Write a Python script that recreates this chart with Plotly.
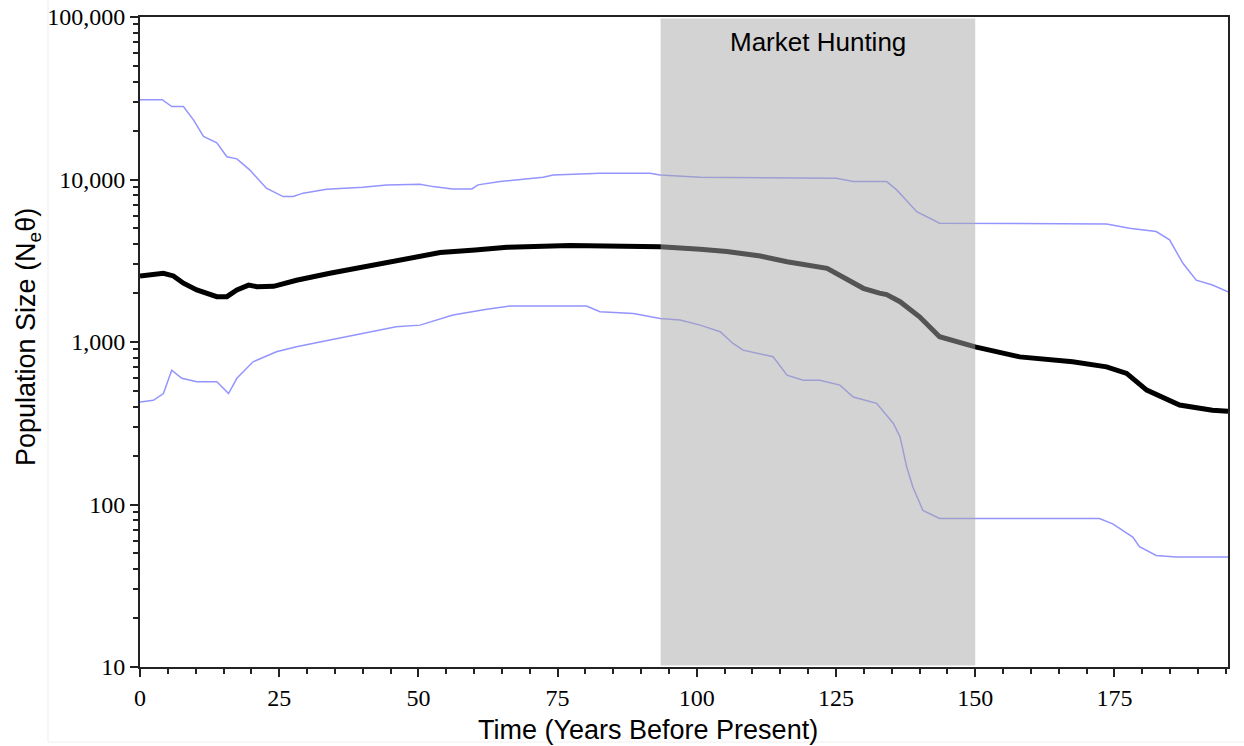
import plotly.graph_objects as go

# ---- data ----
median_years = [0, 3, 4.2, 6, 7.8, 10.2, 13.8, 15.6, 17.4, 19.5, 21, 24, 28.1, 34.1, 40.1, 46.1,
                50.3, 53.9, 60.2, 65.9, 77.2, 93.4, 100.6, 105.4, 111.4, 116.2, 123.4, 126.3,
                129.9, 132.8, 134.1, 136.5, 140, 143.6, 150, 158, 167.5, 173.6, 177.2, 180.8,
                186.7, 192.6, 195.4]
median_vals = [2550, 2650, 2650, 2550, 2300, 2090, 1900, 1900, 2090, 2240, 2190, 2200, 2400, 2650,
               2900, 3200, 3350, 3550, 3680, 3830, 3920, 3860, 3720, 3600, 3380, 3120, 2840, 2520,
               2140, 2000, 1960, 1770, 1430, 1077, 933, 810, 755, 703, 641, 506, 409, 380, 375]

upper_years = [0, 4, 5.7, 7.8, 9.6, 11.4, 13.8, 15.6, 17.4, 19.7, 22.7, 25.7, 27.5, 29.3, 33.5,
               40, 44.3, 50.3, 52.6, 56.2, 59.6, 60.7, 64.7, 69.5, 72.4, 74.2, 82.6, 91.6, 93.4,
               100.6, 125.1, 128.1, 134.1, 135.9, 139.5, 143.6, 173.6, 177.7, 182.5, 184.9,
               187.3, 189.7, 192.6, 195.4]
upper_vals = [31000, 31000, 28100, 28100, 23300, 18400, 16800, 13800, 13400, 11470, 8840, 7850,
              7850, 8240, 8710, 8970, 9260, 9350, 9040, 8750, 8750, 9270, 9710, 10040, 10330,
              10670, 10930, 10930, 10670, 10330, 10180, 9710, 9710, 8630, 6340, 5380, 5330, 5010,
              4780, 4250, 3050, 2400, 2240, 2040]

lower_years = [0, 2.4, 4.2, 5.7, 7.5, 10.2, 13.8, 15.9, 17.4, 20.3, 24.5, 28.1, 34.1, 40, 46,
               50.3, 56.2, 62.3, 66.5, 80.2, 82.6, 88.6, 93.4, 97, 100.6, 104.2, 106.5, 108.3,
               113.7, 116.2, 119.1, 122.1, 125.7, 128.1, 132.3, 135.3, 136.5, 137.7, 138.8,
               140.6, 143.6, 172.3, 174.7, 178.3, 179.5, 182.5, 186.1, 195.4]
lower_vals = [428, 438, 482, 671, 598, 569, 569, 482, 598, 755, 871, 936, 1028, 1130, 1242, 1270,
              1466, 1590, 1665, 1665, 1535, 1500, 1397, 1365, 1270, 1156, 980, 891, 811, 625, 582,
              582, 543, 459, 419, 315, 261, 170, 128, 92, 82, 82, 76, 63, 55, 48.6, 47.5, 47.5]

hunting_start, hunting_end = 93.5, 150
x_range = [0, 195.4]
y_tickvals = [10, 100, 1000, 10000, 100000]
y_ticktext = ["10", "100", "1,000", "10,000", "100,000"]
y_minor = [k * 10 ** d for d in range(1, 5) for k in range(2, 10)]

SERIF = "Liberation Serif, Times New Roman, serif"
SANS = "Liberation Sans, Arial, sans-serif"
BLUE = "#9494ff"

fig = go.Figure()
fig.add_trace(go.Scatter(x=upper_years, y=upper_vals, mode="lines",
                         line=dict(color=BLUE, width=1.5), showlegend=False))
fig.add_trace(go.Scatter(x=lower_years, y=lower_vals, mode="lines",
                         line=dict(color=BLUE, width=1.5), showlegend=False))
fig.add_trace(go.Scatter(x=median_years, y=median_vals, mode="lines",
                         line=dict(color="black", width=5), showlegend=False))

H = 650.0
fig.add_shape(type="rect", xref="x", yref="paper", x0=hunting_start, x1=hunting_end,
              y0=1.5 / H, y1=1 - 1.5 / H, fillcolor="rgb(168,168,168)", opacity=0.5,
              line=dict(width=0), layer="above")

# faint outer figure frame lines
fig.add_shape(type="line", xref="paper", yref="paper", x0=(48 - 140) / 1088, x1=(48 - 140) / 1088,
              y0=(667 - 742) / H, y1=(667 + 17) / H, line=dict(color="#eeeeee", width=1))
fig.add_shape(type="line", xref="paper", yref="paper", x0=(48 - 140) / 1088, x1=(1244 - 140) / 1088,
              y0=(667 - 742) / H, y1=(667 - 742) / H, line=dict(color="#eeeeee", width=1))

fig.add_annotation(text="Market Hunting", xref="x", yref="paper",
                   x=(hunting_start + hunting_end) / 2, y=(667 - 42) / H,
                   showarrow=False, font=dict(family=SANS, size=26, color="black"),
                   xanchor="center", yanchor="middle")
fig.add_annotation(text="Time (Years Before Present)", xref="paper", yref="paper",
                   x=(648 - 140) / 1088, y=(667 - 730) / H, showarrow=False,
                   font=dict(family=SANS, size=27, color="black"),
                   xanchor="center", yanchor="middle")
fig.add_annotation(text="Population Size (N<sub>e</sub>θ)", xref="paper", yref="paper",
                   x=(28 - 140) / 1088, y=(667 - 337) / H, showarrow=False, textangle=-90,
                   font=dict(family=SANS, size=27, color="black"),
                   xanchor="center", yanchor="middle")

fig.update_layout(
    width=1244, height=746,
    margin=dict(l=140, r=16, t=17, b=79, autoexpand=False),
    paper_bgcolor="white", plot_bgcolor="white",
    xaxis=dict(range=x_range, tick0=0, dtick=25, ticks="outside", ticklen=8, tickwidth=2,
               tickcolor="#222", showline=True, linecolor="#222", linewidth=2, mirror=True,
               showgrid=False, zeroline=False, automargin=False,
               tickfont=dict(family=SERIF, size=24, color="black"),
               minor=dict(dtick=5, tick0=0, ticks="outside", ticklen=5, tickwidth=2,
                          tickcolor="#222", showgrid=False)),
    yaxis=dict(type="log", range=[1, 5], tickvals=y_tickvals, ticktext=y_ticktext,
               ticks="outside", ticklen=8, tickwidth=2, tickcolor="#222",
               showline=True, linecolor="#222", linewidth=2, mirror=True,
               showgrid=False, zeroline=False, automargin=False,
               tickfont=dict(family=SERIF, size=24, color="black"),
               minor=dict(tickvals=y_minor, ticks="outside", ticklen=5, tickwidth=2,
                          tickcolor="#222", showgrid=False)),
)

fig.write_html("out.html")
